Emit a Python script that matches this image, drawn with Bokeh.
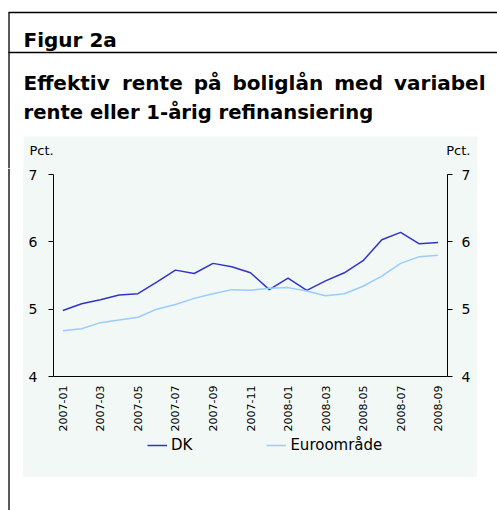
import math
from bokeh.plotting import figure
from bokeh.layouts import column, row
from bokeh.models import (Range1d, LinearAxis, FixedTicker, Legend, LegendItem)
from bokeh.core.properties import value
from bokeh.embed import file_html
from bokeh.resources import INLINE

# ---- data ----
months = ["2007-01", "2007-02", "2007-03", "2007-04", "2007-05", "2007-06",
          "2007-07", "2007-08", "2007-09", "2007-10", "2007-11", "2007-12",
          "2008-01", "2008-02", "2008-03", "2008-04", "2008-05", "2008-06",
          "2008-07", "2008-08", "2008-09"]
dk = [4.98, 5.08, 5.14, 5.21, 5.23, 5.40, 5.58, 5.53, 5.68, 5.63, 5.54,
      5.29, 5.46, 5.28, 5.42, 5.54, 5.72, 6.03, 6.14, 5.97, 5.99]
euro = [4.68, 4.71, 4.80, 4.84, 4.88, 5.00, 5.07, 5.16, 5.23, 5.29, 5.28,
        5.31, 5.32, 5.27, 5.20, 5.23, 5.34, 5.49, 5.68, 5.78, 5.80]
y_ticks = [4, 5, 6, 7]
series_names = ["DK", "Euroområde"]
title_tag = "Figur 2a"
title_lines = ["Effektiv rente på boliglån med variabel",
               "rente eller 1-årig refinansiering"]
unit_label = "Pct."

# ---- styling / layout ----
FONT = "DejaVu Sans"
MINT = "#F1F8F5"
DK_COLOR = "#3333CC"
EU_COLOR = "#99CCFF"
TOTAL_W, TOTAL_H = 497, 510
HEAD_H = 168
STRIP_W = 23
PANEL_W = 454
CHART_H = 266
LEG_H = 43
BODY_H = TOTAL_H - HEAD_H
BASE_SHIFT = 7  # svg alphabetic baseline correction

# approx. DejaVu Sans Bold advance widths (per 1000 em) for justification
BOLD_W = {" ": 348, "a": 675, "b": 716, "d": 716, "e": 678, "f": 435,
          "g": 716, "i": 343, "k": 665, "l": 343, "m": 1042, "n": 712,
          "o": 687, "p": 716, "r": 493, "t": 478, "v": 652, "å": 675,
          "E": 683}


def word_width(w, size):
    return sum(BOLD_W.get(c, 650) for c in w) * size / 1000.0


def plain_fig(w, h, bg="white"):
    f = figure(width=w, height=h, x_range=Range1d(0, w), y_range=Range1d(h, 0),
               output_backend="svg", toolbar_location=None,
               x_axis_location=None, y_axis_location=None,
               min_border=0)
    f.grid.visible = False
    f.outline_line_color = None
    f.background_fill_color = bg
    f.border_fill_color = bg
    return f


# ---- header ----
head = plain_fig(TOTAL_W, HEAD_H)
head.quad(left=[23], right=[23 + PANEL_W], top=[136], bottom=[HEAD_H],
          fill_color=MINT, line_color=None)
head.segment(x0=[8, 8, 8.5], y0=[12, 52, 12], x1=[TOTAL_W, TOTAL_W, 8.5],
             y1=[12, 52, HEAD_H], line_color="black", line_width=1.3)
head.text(x=[23], y=[46 - BASE_SHIFT], text=[title_tag], text_font=value(FONT),
          text_font_size=value("20px"), text_font_style="bold",
          text_baseline="alphabetic", text_color="black")

# justified first title line
TS = 20
words = title_lines[0].split(" ")
widths = [word_width(w, TS) for w in words]
gap = (462 - sum(widths)) / (len(words) - 1)
xs, cur = [], 23.0
for wd in widths:
    xs.append(cur)
    cur += wd + gap
y1 = 89 - BASE_SHIFT
y2 = 119 - BASE_SHIFT
head.text(x=xs[:-1], y=[y1] * (len(words) - 1), text=words[:-1],
          text_font=value(FONT), text_font_size=value("20px"),
          text_font_style="bold", text_baseline="alphabetic",
          text_color="black")
head.text(x=[485], y=[y1], text=[words[-1]], text_font=value(FONT),
          text_font_size=value("20px"), text_font_style="bold",
          text_baseline="alphabetic", text_align="right", text_color="black")
head.text(x=[23], y=[y2], text=[title_lines[1]], text_font=value(FONT),
          text_font_size=value("19.6px"), text_font_style="bold",
          text_baseline="alphabetic", text_color="black")
head.text(x=[29, 470], y=[150, 150], text=[unit_label, unit_label],
          text_font=value(FONT), text_font_size=value("13px"),
          text_baseline="middle", text_align=["left", "right"],
          text_color="black")

# ---- left strip (border line) ----
strip = plain_fig(STRIP_W, BODY_H)
strip.segment(x0=[8.5], y0=[0], x1=[8.5], y1=[BODY_H],
              line_color="black", line_width=1.3)

# ---- chart ----
xi = list(range(len(months)))
p = figure(width=PANEL_W, height=CHART_H,
           x_range=Range1d(-0.5, len(months) - 0.5), y_range=Range1d(4, 7),
           output_backend="svg", toolbar_location=None,
           min_border_left=30, min_border_right=30,
           min_border_top=6, min_border_bottom=CHART_H - 211)
p.grid.visible = False
p.outline_line_color = None
p.background_fill_color = MINT
p.border_fill_color = MINT

yax = p.yaxis[0]
rax = LinearAxis()
p.add_layout(rax, "right")
for ax in (yax, rax):
    ax.ticker = FixedTicker(ticks=y_ticks)
    ax.major_tick_out = 5
    ax.major_tick_in = 0
    ax.minor_tick_out = 0
    ax.minor_tick_in = 0
    ax.axis_line_color = "black"
    ax.major_tick_line_color = "black"
    ax.major_label_text_font = FONT
    ax.major_label_text_font_size = "14px"
    ax.major_label_text_color = "black"
yax.major_label_standoff = 11
rax.major_label_standoff = 9

xax = p.xaxis[0]
xax.ticker = FixedTicker(ticks=xi[::2])
xax.major_label_overrides = {i: m for i, m in enumerate(months)}
xax.major_tick_out = 0
xax.major_tick_in = 0
xax.minor_tick_out = 0
xax.minor_tick_in = 0
xax.axis_line_color = "black"
xax.major_label_orientation = math.pi / 2
xax.major_label_text_font = FONT
xax.major_label_text_font_size = "11px"
xax.major_label_text_color = "black"
xax.major_label_standoff = 9

p.line(x=xi, y=dk, line_color=DK_COLOR, line_width=1.5)
p.line(x=xi, y=euro, line_color=EU_COLOR, line_width=1.5)

# ---- legend panel (legend-only stand-in lines lie outside the view) ----
leg = plain_fig(PANEL_W, LEG_H, bg=MINT)
d1 = leg.line(x=[-100, -90], y=[-100, -100], line_color=DK_COLOR, line_width=1.5)
d2 = leg.line(x=[-100, -90], y=[-100, -100], line_color=EU_COLOR, line_width=1.5)
legend = Legend(items=[LegendItem(label=series_names[0], renderers=[d1]),
                       LegendItem(label=series_names[1], renderers=[d2])],
                orientation="horizontal", location=(94, 23),
                padding=0, margin=0, spacing=74,
                glyph_width=20, glyph_height=14, label_standoff=4,
                border_line_alpha=0, background_fill_alpha=0,
                label_text_font=FONT, label_text_font_size="15px",
                label_text_color="black")
leg.add_layout(legend)

panel = column(p, leg, styles={"background-color": MINT})
layout = column(head, row(strip, panel))
open("out.html", "w").write(file_html(layout, INLINE))
